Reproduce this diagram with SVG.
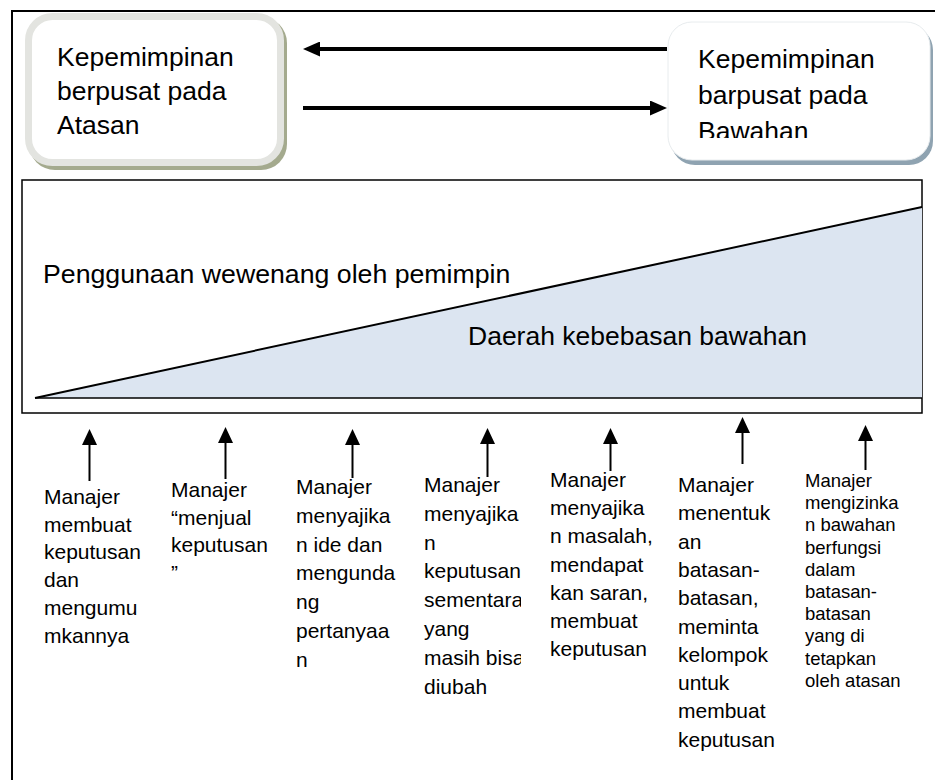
<svg xmlns="http://www.w3.org/2000/svg" width="935" height="780" viewBox="0 0 935 780">
<style>
  .big { font-family: "Liberation Sans", Arial, sans-serif; font-size: 26.5px; fill: #000; }
  .mid { font-family: "Liberation Sans", Arial, sans-serif; font-size: 26.7px; fill: #000; }
  .lbl { font-family: "Liberation Sans", Arial, sans-serif; font-size: 21px; fill: #000; }
  .lbl7 { font-family: "Liberation Sans", Arial, sans-serif; font-size: 18.5px; fill: #000; }
  .thick { stroke: #000; stroke-width: 4; fill: none; }
  .thin { stroke: #000; stroke-width: 2; fill: none; }
</style>
<defs>
  <marker id="bigHead" viewBox="0 0 17 15" refX="1" refY="7.5" markerWidth="17" markerHeight="15" markerUnits="userSpaceOnUse" orient="auto">
    <path d="M0,0 L17,7.5 L0,15 z" fill="#000"/>
  </marker>
  <marker id="smallHead" viewBox="0 0 16 15" refX="1" refY="7.5" markerWidth="16" markerHeight="15" markerUnits="userSpaceOnUse" orient="auto">
    <path d="M0,0 L16,7.5 L0,15 z" fill="#000"/>
  </marker>
  <clipPath id="clipR"><rect x="668" y="20" width="265" height="118"/></clipPath>
  <clipPath id="clip1"><rect x="30" y="470" width="113" height="300"/></clipPath>
  <clipPath id="clip2"><rect x="160" y="470" width="108" height="300"/></clipPath>
  <clipPath id="clip3"><rect x="285" y="470" width="112" height="300"/></clipPath>
  <clipPath id="clip4"><rect x="415" y="470" width="106" height="300"/></clipPath>
  <clipPath id="clip5"><rect x="540" y="470" width="113" height="300"/></clipPath>
</defs>

<rect x="0" y="0" width="935" height="780" fill="#fff"/>

<!-- outer frame -->
<g id="frame">
  <path d="M12,780 L12,11 L935,11" stroke="#000" stroke-width="2" fill="none"/>
</g>

<!-- top-left box -->
<g id="box-atasan">
  <rect x="29" y="17" width="258" height="153" rx="26" fill="#a4aa8e"/>
  <rect x="28.5" y="16.5" width="252" height="146" rx="24" fill="#fff" stroke="#e3e4e0" stroke-width="7"/>
  <text class="big" x="57" y="66">Kepemimpinan</text>
  <text class="big" x="57" y="100">berpusat pada</text>
  <text class="big" x="57" y="134">Atasan</text>
</g>

<!-- top-right box -->
<g id="box-bawahan">
  <rect x="671" y="26" width="262" height="139" rx="24" fill="#8fa3b1"/>
  <rect x="668" y="22" width="262" height="138" rx="24" fill="#fff" stroke="#e8ecee" stroke-width="1"/>
  <g clip-path="url(#clipR)">
    <text class="big" x="698" y="68">Kepemimpinan</text>
    <text class="big" x="698" y="104">barpusat pada</text>
    <text class="big" x="698" y="140">Bawahan</text>
  </g>
</g>

<!-- chart -->
<g id="chart">
  <rect x="22" y="180" width="900" height="233" fill="#fff" stroke="#000" stroke-width="1.5"/>
  <polygon points="35,398 922,207 922,398" fill="#dce5f1"/>
  <line x1="35" y1="398" x2="922" y2="207" stroke="#000" stroke-width="2"/>
  <line x1="35" y1="398" x2="922" y2="398" stroke="#000" stroke-width="1.5"/>
  <text class="mid" x="43" y="283">Penggunaan wewenang oleh pemimpin</text>
  <text class="big" x="468" y="345">Daerah kebebasan bawahan</text>
</g>

<!-- connectors -->
<g id="connectors">
  <line class="thick" x1="667" y1="49" x2="319" y2="49" marker-end="url(#bigHead)"/>
  <line class="thick" x1="303" y1="108" x2="651" y2="108" marker-end="url(#bigHead)"/>
  <line class="thin" x1="89.5" y1="481" x2="89.5" y2="444" marker-end="url(#smallHead)"/>
  <line class="thin" x1="225.5" y1="479" x2="225.5" y2="442" marker-end="url(#smallHead)"/>
  <line class="thin" x1="352.5" y1="478" x2="352.5" y2="444" marker-end="url(#smallHead)"/>
  <line class="thin" x1="487.5" y1="477" x2="487.5" y2="443" marker-end="url(#smallHead)"/>
  <line class="thin" x1="610.5" y1="471" x2="610.5" y2="443" marker-end="url(#smallHead)"/>
  <line class="thin" x1="742.5" y1="464" x2="742.5" y2="432" marker-end="url(#smallHead)"/>
  <line class="thin" x1="865.5" y1="470" x2="865.5" y2="440" marker-end="url(#smallHead)"/>
</g>

<!-- labels -->
<g id="label-1" clip-path="url(#clip1)">
  <text class="lbl" x="44" y="504">Manajer</text>
  <text class="lbl" x="44" y="531.7">membuat</text>
  <text class="lbl" x="44" y="559.4">keputusan</text>
  <text class="lbl" x="44" y="587.1">dan</text>
  <text class="lbl" x="44" y="614.8">mengumu</text>
  <text class="lbl" x="44" y="642.5">mkannya</text>
</g>
<g id="label-2" clip-path="url(#clip2)">
  <text class="lbl" x="171" y="497">Manajer</text>
  <text class="lbl" x="171" y="524.5">“menjual</text>
  <text class="lbl" x="171" y="552">keputusan</text>
  <text class="lbl" x="171" y="579.5">”</text>
</g>
<g id="label-3" clip-path="url(#clip3)">
  <text class="lbl" x="296" y="494">Manajer</text>
  <text class="lbl" x="296" y="522.8">menyajika</text>
  <text class="lbl" x="296" y="551.6">n ide dan</text>
  <text class="lbl" x="296" y="580.4">mengunda</text>
  <text class="lbl" x="296" y="609.2">ng</text>
  <text class="lbl" x="296" y="638">pertanyaa</text>
  <text class="lbl" x="296" y="666.8">n</text>
</g>
<g id="label-4" clip-path="url(#clip4)">
  <text class="lbl" x="424" y="492">Manajer</text>
  <text class="lbl" x="424" y="520.8">menyajika</text>
  <text class="lbl" x="424" y="549.6">n</text>
  <text class="lbl" x="424" y="578.4">keputusan</text>
  <text class="lbl" x="424" y="607.2">sementara</text>
  <text class="lbl" x="424" y="636">yang</text>
  <text class="lbl" x="424" y="664.8">masih bisa</text>
  <text class="lbl" x="424" y="693.6">diubah</text>
</g>
<g id="label-5" clip-path="url(#clip5)">
  <text class="lbl" x="550" y="487">Manajer</text>
  <text class="lbl" x="550" y="515.2">menyajika</text>
  <text class="lbl" x="550" y="543.4">n masalah,</text>
  <text class="lbl" x="550" y="571.6">mendapat</text>
  <text class="lbl" x="550" y="599.8">kan saran,</text>
  <text class="lbl" x="550" y="628">membuat</text>
  <text class="lbl" x="550" y="656.2">keputusan</text>
</g>
<g id="label-6">
  <text class="lbl" x="678" y="492">Manajer</text>
  <text class="lbl" x="678" y="520.3">menentuk</text>
  <text class="lbl" x="678" y="548.6">an</text>
  <text class="lbl" x="678" y="576.9">batasan-</text>
  <text class="lbl" x="678" y="605.2">batasan,</text>
  <text class="lbl" x="678" y="633.5">meminta</text>
  <text class="lbl" x="678" y="661.8">kelompok</text>
  <text class="lbl" x="678" y="690.1">untuk</text>
  <text class="lbl" x="678" y="718.4">membuat</text>
  <text class="lbl" x="678" y="746.7">keputusan</text>
</g>
<g id="label-7">
  <text class="lbl7" x="805" y="487">Manajer</text>
  <text class="lbl7" x="805" y="509.2">mengizinka</text>
  <text class="lbl7" x="805" y="531.4">n bawahan</text>
  <text class="lbl7" x="805" y="553.6">berfungsi</text>
  <text class="lbl7" x="805" y="575.8">dalam</text>
  <text class="lbl7" x="805" y="598">batasan-</text>
  <text class="lbl7" x="805" y="620.2">batasan</text>
  <text class="lbl7" x="805" y="642.4">yang di</text>
  <text class="lbl7" x="805" y="664.6">tetapkan</text>
  <text class="lbl7" x="805" y="686.8">oleh atasan</text>
</g>
</svg>
